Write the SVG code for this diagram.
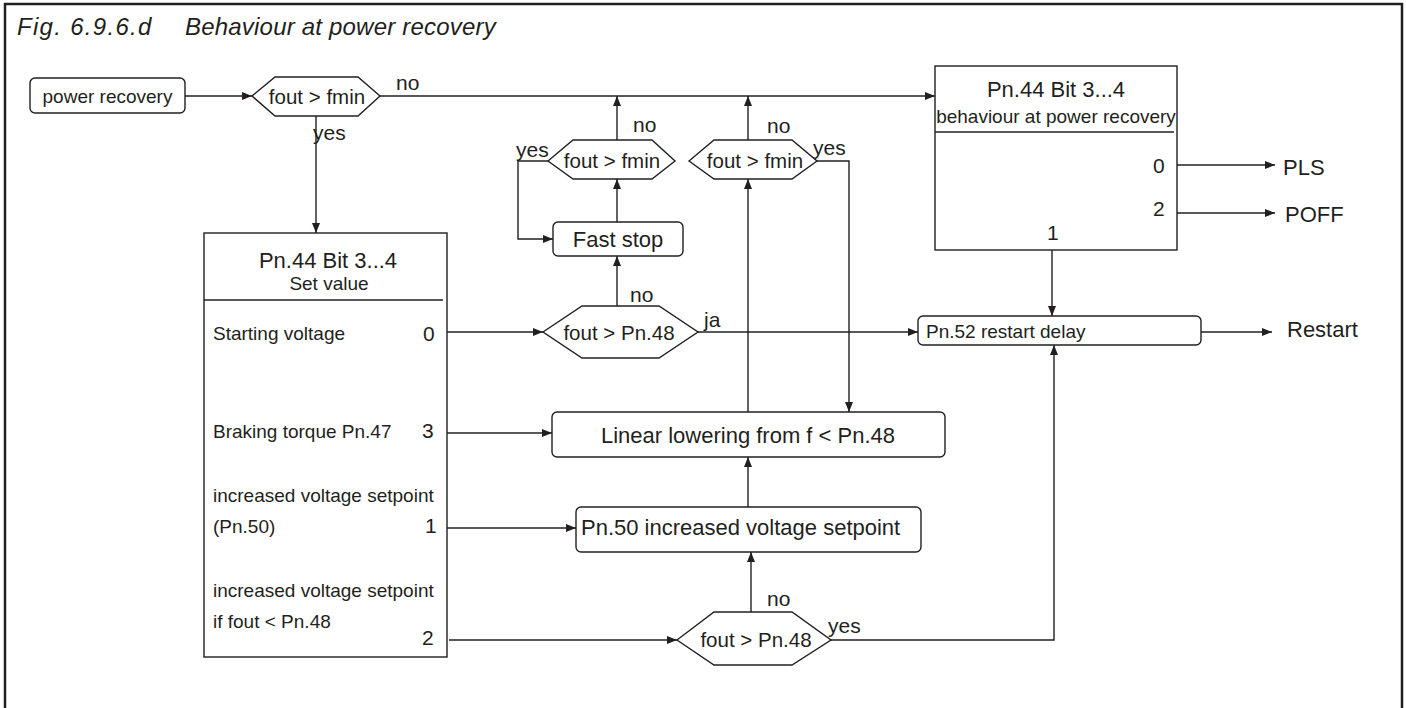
<svg xmlns="http://www.w3.org/2000/svg" width="1406" height="708" viewBox="0 0 1406 708">
<style>
text{font-family:"Liberation Sans",Arial,sans-serif;fill:#231f20}
.t{font-size:24px;font-style:italic}
.s19{font-size:19px}
.s20{font-size:20.5px}
.s21{font-size:21px}
.s22{font-size:22px}
.m{text-anchor:middle}
.box{fill:#fff;stroke:#231f20;stroke-width:1.4}
.c path{fill:none;stroke:#231f20;stroke-width:1.4;marker-end:url(#ah)}
</style>
<defs>
<marker id="ah" viewBox="0 0 10 8" refX="10" refY="4" markerWidth="11" markerHeight="8" markerUnits="userSpaceOnUse" orient="auto"><path d="M0,0 L10,4 L0,8 z" fill="#231f20"/></marker>
</defs>
<rect x="0" y="0" width="1406" height="708" fill="#fff"/>
<path d="M5,720 V4 H1402 V720" fill="none" stroke="#231f20" stroke-width="2.5"/>
<text class="t" x="17" y="35" letter-spacing="1.3">Fig. 6.9.6.d</text>
<text class="t" x="185" y="35" letter-spacing="0.2">Behaviour at power recovery</text>

<g class="c" id="connectors">
<path d="M185,96 H252"/>
<path d="M380,96 H935"/>
<path d="M316,116 V233"/>
<path d="M447,332 H543"/>
<path d="M698,332 H918"/>
<path d="M617,306 V256"/>
<path d="M617,222 V179"/>
<path d="M617,140 V96"/>
<path d="M548,161 H518 V239 H553"/>
<path d="M748,412 V179"/>
<path d="M748,140 V96"/>
<path d="M817,161 H849 V412"/>
<path d="M447,433 H552"/>
<path d="M447,528 H576"/>
<path d="M748,507 V457"/>
<path d="M449,640 H677"/>
<path d="M751,612 V552"/>
<path d="M831,640 H1054 V345"/>
<path d="M1052,250 V316"/>
<path d="M1177,165 H1275"/>
<path d="M1177,213 H1275"/>
<path d="M1201,332 H1272"/>
</g>

<g id="n-power">
<rect class="box" x="30" y="78" width="155" height="35" rx="5"/>
<text class="s19 m" x="107.5" y="103">power recovery</text>
</g>

<g id="n-hex1">
<polygon class="box" points="252,96 275,77 358,77 380,96 358,116 275,116"/>
<text class="s20 m" x="317" y="104">fout &gt; fmin</text>
</g>
<text class="s21" x="396" y="90">no</text>
<text class="s21" x="313" y="140">yes</text>

<g id="n-hex3a">
<polygon class="box" points="548,161 573,140 652,140 675,161 652,179 573,179"/>
<text class="s20 m" x="612" y="168">fout &gt; fmin</text>
</g>
<text class="s21" x="633" y="132">no</text>
<text class="s21" x="516" y="157">yes</text>

<g id="n-hex3b">
<polygon class="box" points="689,161 714,140 792,140 817,161 792,179 714,179"/>
<text class="s20 m" x="755" y="168">fout &gt; fmin</text>
</g>
<text class="s21" x="767" y="133">no</text>
<text class="s21" x="813" y="155">yes</text>

<g id="n-faststop">
<rect class="box" x="553" y="222" width="130" height="34" rx="5"/>
<text class="s22 m" x="618" y="247">Fast stop</text>
</g>

<g id="n-setvalue">
<rect class="box" x="204" y="233" width="243" height="424"/>
<line x1="204" y1="300" x2="443" y2="300" stroke="#231f20" stroke-width="1.4"/>
<text class="s22 m" x="328" y="268">Pn.44 Bit 3...4</text>
<text class="s19 m" x="329" y="290">Set value</text>
<text class="s19" x="213" y="340">Starting voltage</text>
<text class="s21" x="423" y="341">0</text>
<text class="s19" x="213" y="438">Braking torque Pn.47</text>
<text class="s21" x="422" y="438">3</text>
<text class="s19" x="213" y="502">increased voltage setpoint</text>
<text class="s19" x="213" y="533">(Pn.50)</text>
<text class="s21" x="425" y="533">1</text>
<text class="s19" x="213" y="597">increased voltage setpoint</text>
<text class="s19" x="213" y="628">if fout &lt; Pn.48</text>
<text class="s21" x="422" y="645">2</text>
</g>

<g id="n-hex2">
<polygon class="box" points="543,332 582,306 659,306 698,332 659,358 582,358"/>
<text class="s20 m" x="619" y="340">fout &gt; Pn.48</text>
</g>
<text class="s21" x="630" y="302">no</text>
<text class="s21" x="704" y="327">ja</text>

<g id="n-linear">
<rect class="box" x="552" y="412" width="393" height="45" rx="5"/>
<text class="s22 m" x="748" y="443">Linear lowering from f &lt; Pn.48</text>
</g>

<g id="n-pn50">
<rect class="box" x="576" y="507" width="345" height="45" rx="5"/>
<text class="s22" x="581" y="535">Pn.50 increased voltage setpoint</text>
</g>

<g id="n-hex4">
<polygon class="box" points="677,640 714,612 792,612 831,640 792,665 714,665"/>
<text class="s20 m" x="756" y="647">fout &gt; Pn.48</text>
</g>
<text class="s21" x="767" y="606">no</text>
<text class="s21" x="828" y="633">yes</text>

<g id="n-behaviour">
<rect class="box" x="935" y="66" width="242" height="184"/>
<line x1="935" y1="132" x2="1174" y2="132" stroke="#231f20" stroke-width="1.4"/>
<text class="s22 m" x="1056" y="97">Pn.44 Bit 3...4</text>
<text class="s19 m" x="1056" y="123">behaviour at power recovery</text>
<text class="s21" x="1153" y="173">0</text>
<text class="s21" x="1153" y="216">2</text>
<text class="s21" x="1047" y="240">1</text>
</g>

<g id="n-restartdelay">
<rect class="box" x="918" y="316" width="283" height="29" rx="5"/>
<text class="s19" x="926" y="338">Pn.52 restart delay</text>
</g>

<g id="n-pls"><text class="s22" x="1283" y="175">PLS</text></g>
<g id="n-poff"><text class="s22" x="1285" y="222">POFF</text></g>
<g id="n-restart"><text class="s22" x="1287" y="337">Restart</text></g>
</svg>
